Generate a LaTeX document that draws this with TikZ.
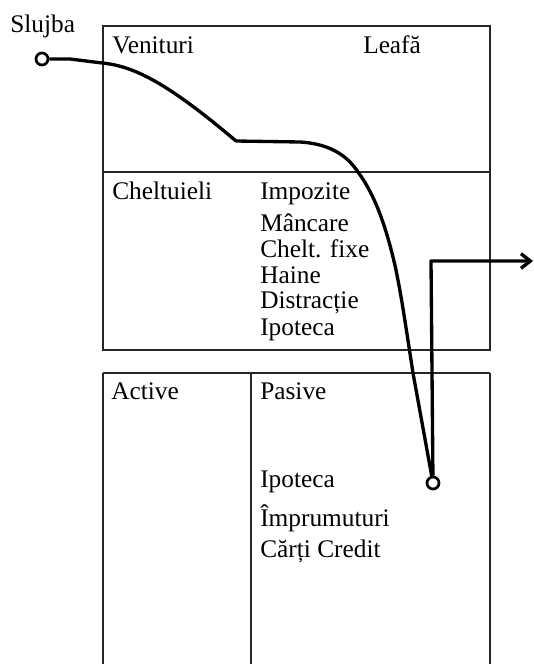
\documentclass[tikz,border=0pt]{standalone}
\usepackage{fontspec}
\setmainfont{Liberation Serif}
\usetikzlibrary{arrows.meta}
\tikzset{
  x=0.75pt,y=-0.75pt,
  box/.style={draw=black!85,line width=1.1pt},
  lbl/.style={anchor=base west,inner sep=0pt,font=\fontsize{19}{19}\selectfont},
  flow/.style={draw=black,line width=2.5pt,line join=round},
  port/.style={circle,draw=black,line width=2pt,fill=white,minimum size=9pt,inner sep=0pt}
}
\begin{document}
\begin{tikzpicture}
\useasboundingbox (0,0) rectangle (534,664);
\draw[box] (103,26) rectangle (490,350);
\draw[box] (103,172) -- (490,172);
\draw[box] (103,373) -- (490,373);
\draw[box] (103,373) -- (103,664);
\draw[box] (251,373) -- (251,664);
\draw[box] (490,373) -- (490,664);
\node[lbl] (sl) at (10,32) {Slujba};
\node[lbl] (ve) at (112,53) {Venituri};
\node[lbl] (le) at (363,53) {Leafă};
\node[lbl] (ch) at (112,199) {Cheltuieli};
\node[lbl] (im) at (260,199) {Impozite};
\node[lbl] (ma) at (260,231) {Mâncare};
\node[lbl] (cf) at (260,257) {Chelt. fixe};
\node[lbl] (ha) at (260,283) {Haine};
\node[lbl] (di) at (260,308) {Distracție};
\node[lbl] (ip) at (260,335) {Ipoteca};
\node[lbl] (ac) at (111,399) {Active};
\node[lbl] (pa) at (260,399) {Pasive};
\node[lbl] (iq) at (260,487) {Ipoteca};
\node[lbl] (ie) at (260,526) {Împrumuturi};
\node[lbl] (cc) at (260,557) {Cărți Credit};
\node[port] (s) at (42,59) {};
\node[port] (e) at (433,483) {};
\coordinate (k) at (236,141);
\coordinate (o) at (533,261);
\draw[flow] (s) -- (70,59) -- (102,63) .. controls (135,66) and (170,85) .. (k)
  -- (300,142) .. controls (335,144) and (350,160) .. (358,172)
  .. controls (375,195) and (385,225) .. (393,257)
  .. controls (400,285) and (406,328) .. (413,373) -- (e);
\draw[flow,-{Straight Barb[length=7pt,width=11pt,line width=2.5pt]}] (e) -- (431,261) -- (o);
\end{tikzpicture}
\end{document}
